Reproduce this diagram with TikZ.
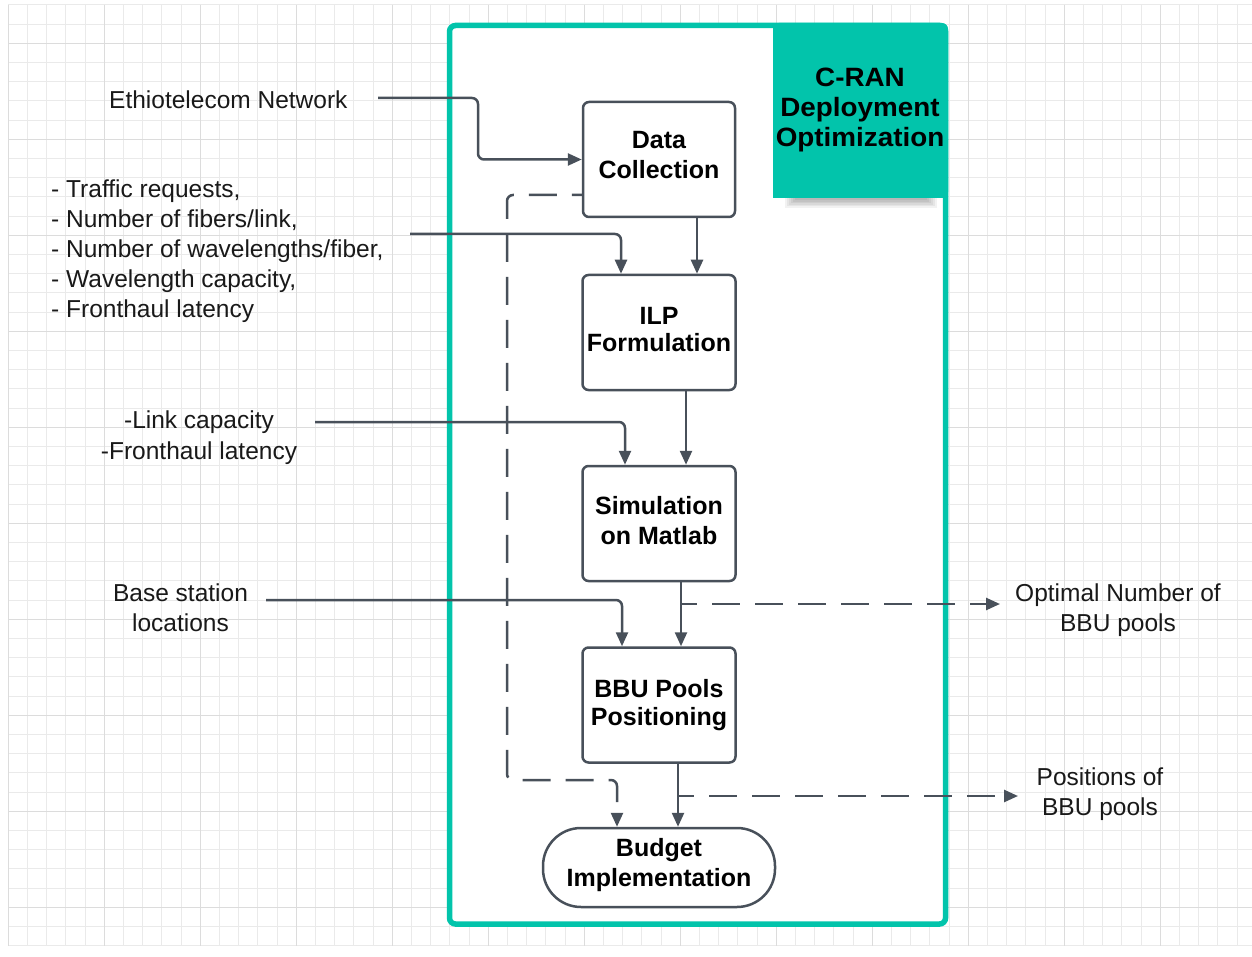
\documentclass[tikz,border=0pt]{standalone}
\usepackage{fontspec}
\setmainfont{Liberation Sans}
\newfontfamily\crfont{Liberation Sans}[FakeStretch=1.05]
\usetikzlibrary{arrows.meta}
\definecolor{tealc}{RGB}{2,196,171}
\definecolor{ink}{RGB}{72,80,90}
\definecolor{txt}{RGB}{25,25,25}
\definecolor{gminorc}{RGB}{234,234,234}
\definecolor{gmajorc}{RGB}{220,220,220}
\newcommand\mylines[3]{\raisebox{#1}[0pt][0pt]{\begin{tabular}[t]{@{}#2@{}}#3\end{tabular}}}
\begin{document}
\begin{tikzpicture}[x=1pt,y=-1pt,
 gminor/.style={draw=gminorc, line width=1pt},
 gmajor/.style={draw=gmajorc, line width=1.2pt},
 box/.style={draw=ink, line width=2.5pt, rounded corners=6pt, fill=white, inner sep=0pt,
   minimum width=153pt, minimum height=115pt, text=black,
   font=\fontsize{25}{30}\selectfont\bfseries},
 boxtight/.style={box, font=\fontsize{25}{28}\selectfont\bfseries},
 term/.style={box, rounded corners=38pt, minimum width=232pt, minimum height=79pt},
 lbl/.style={inner sep=0pt, font=\fontsize{24.5}{30}\selectfont, text=txt},
 conn/.style={draw=ink, line width=2.5pt, rounded corners=6pt, -{Triangle[length=14pt,width=12pt]}},
 dconn/.style={conn, dash pattern=on 28pt off 15pt},
]
\useasboundingbox (0,0) rectangle (1252,957);
\fill[white] (0,0) rectangle (1252,957);
% grid
\foreach \xx in {8.3,27.5,...,1252} \draw[gminor] (\xx,4.9) -- (\xx,945.7);
\foreach \yy in {4.9,24.1,...,950} \draw[gminor] (8.3,\yy) -- (1252,\yy);
\foreach \xx in {8.3,104.3,...,1252} \draw[gmajor] (\xx,4.9) -- (\xx,945.7);
\foreach \yy in {43.3,139.3,...,950} \draw[gmajor] (8.3,\yy) -- (1252,\yy);
% frame
\node[draw=tealc, line width=5.5pt, rounded corners=6pt, fill=white, inner sep=0pt,
  minimum width=496pt, minimum height=898.5pt] (frame) at (697.5,474.75) {};
% header shadow
\foreach \k in {0,...,5} \fill[black, opacity=0.05] ({785+2*\k},190) rectangle ({937-2*\k},{208-1.5*\k});
% header
\fill[tealc, rounded corners=6pt] (773,23) rectangle (948,198);
\fill[tealc] (773,23) rectangle (790,198);
\fill[tealc] (773,180) rectangle (948,198);
\node[inner sep=0pt, text=black, font=\crfont\fontsize{26.5}{30}\selectfont\bfseries] (cran) at (860,86.7)
  {\mylines{0pt}{c}{C-RAN\\Deployment\\Optimization}};
% process boxes
\node[box, minimum width=152pt] (dc) at (659,159.5) {\mylines{11.2pt}{c}{Data\\Collection}};
\node[boxtight] (ilp) at (659,332.5) {\mylines{8.5pt}{c}{ILP\\Formulation}};
\node[box] (sim) at (659,523.5) {\mylines{9.5pt}{c}{Simulation\\on Matlab}};
\node[boxtight] (bbu) at (659,705) {\mylines{7.7pt}{c}{BBU Pools\\Positioning}};
\node[term] (bud) at (659,867.5) {\mylines{10.8pt}{c}{Budget\\Implementation}};
% labels
\node[lbl, anchor=base west] (ethio) at (109,108.5) {Ethiotelecom Network};
\node[lbl, anchor=west] (params) at (51,197.5) {\mylines{0pt}{l}{- Traffic requests,\\- Number of fibers/link,\\- Number of wavelengths/fiber,\\- Wavelength capacity,\\- Fronthaul latency}};
\node[lbl, font=\fontsize{24.5}{31}\selectfont] (link) at (199,428.5) {\mylines{0pt}{c}{-Link capacity\\-Fronthaul latency}};
\node[lbl] (bs) at (180.5,601.5) {\mylines{0pt}{c}{Base station\\locations}};
\node[lbl] (opt) at (1118,601.7) {\mylines{0pt}{c}{Optimal Number of\\BBU pools}};
\node[lbl] (pos) at (1100,785) {\mylines{0pt}{c}{Positions of\\BBU pools}};
% input connectors
\coordinate (e1) at (378,98);
\draw[conn] (e1) -- (478,98) |- (dc.west);
\coordinate (p1) at (410,234);
\draw[conn] (p1) -| ([xshift=-38pt]ilp.north);
\coordinate (k1) at (315,422);
\draw[conn] (k1) -| ([xshift=-34pt]sim.north);
\coordinate (b1) at (266,600);
\draw[conn] (b1) -| ([xshift=-37pt]bbu.north);
% flow
\draw[conn] ([xshift=38pt]dc.south) -- ([xshift=38pt]ilp.north);
\draw[conn] ([xshift=27pt]ilp.south) -- ([xshift=27pt]sim.north);
\draw[conn] ([xshift=22pt]sim.south) -- ([xshift=22pt]bbu.north);
\draw[conn] ([xshift=19pt]bbu.south) -- ([xshift=19pt]bud.north);
% outputs
\coordinate (j1) at (681,604);
\coordinate (j1e) at (1000,604);
\draw[dconn, dash phase=12pt] (j1) -- (j1e);
\coordinate (j2) at (678,796);
\coordinate (j2e) at (1018,796);
\draw[dconn, dash phase=12pt] (j2) -- (j2e);
% dashed bypass
\draw[dconn, dash phase=18pt] ([yshift=-35.5pt]dc.west) -- (507,195) -- (507,780) -| ([xshift=-42pt]bud.north);
\end{tikzpicture}
\end{document}
